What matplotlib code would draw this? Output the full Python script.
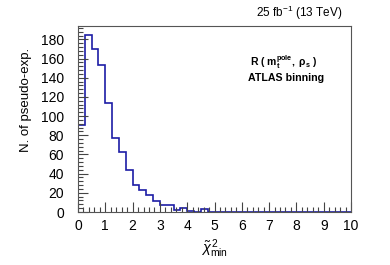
import numpy as np
import matplotlib.pyplot as plt
from matplotlib.ticker import MultipleLocator

plt.rcParams['font.family'] = ['Liberation Sans', 'DejaVu Sans']
plt.rcParams['mathtext.fontset'] = 'custom'
plt.rcParams['mathtext.rm'] = 'Liberation Sans'
plt.rcParams['mathtext.it'] = 'Liberation Sans:italic'
plt.rcParams['mathtext.bf'] = 'Liberation Sans:bold'

# histogram of chi2_min from pseudo-experiments, bin width 0.25
bin_edges = np.arange(0, 10.01, 0.25)
counts = [91, 185, 170, 153, 114, 77, 63, 44, 28, 23, 18, 11, 7, 7, 2, 4,
          1, 0, 3, 0] + [0] * 20

fig = plt.figure(figsize=(3.9, 2.65), dpi=100)
ax = fig.add_axes([0.2, 0.2, 0.7, 0.702])

ax.stairs(counts, bin_edges, color='#1c1ca6', linewidth=1.2)

ax.set_xlim(0, 10)
ax.set_ylim(0, 194)
ax.xaxis.set_major_locator(MultipleLocator(1))
ax.xaxis.set_minor_locator(MultipleLocator(0.2))
ax.yaxis.set_major_locator(MultipleLocator(20))
ax.yaxis.set_minor_locator(MultipleLocator(4))
ax.tick_params(which='both', direction='in', labelsize=10, color='#444444')
ax.tick_params(which='major', length=7, width=0.8)
ax.tick_params(which='minor', length=3.5, width=0.8)
ax.tick_params(axis='x', pad=5)
ax.tick_params(axis='y', pad=10)
for s in ax.spines.values():
    s.set_color('#555555')
    s.set_linewidth(0.8)

ax.set_ylabel('N. of pseudo-exp.', fontsize=9.5)
ax.yaxis.set_label_coords(-0.17, 0.60)
ax.set_xlabel(r'$\tilde{\chi}^{\,2}_{\mathrm{min}}$', fontsize=10.5)
ax.xaxis.set_label_coords(0.5, -0.135)

fig.text(0.877, 0.951, r'25 fb$^{-1}$ (13 TeV)', ha='right', va='center', fontsize=8.5)
ax.text(0.755, 0.806, r'$\mathbf{R}$ $\mathbf{(\ m_t^{pole},\ \rho_s\ )}$',
        transform=ax.transAxes, ha='center', va='center', fontsize=7.5)
ax.text(0.762, 0.72, 'ATLAS binning', transform=ax.transAxes,
        ha='center', va='center', fontsize=7.7, fontweight='bold')

fig.savefig('out.png', dpi=100)
